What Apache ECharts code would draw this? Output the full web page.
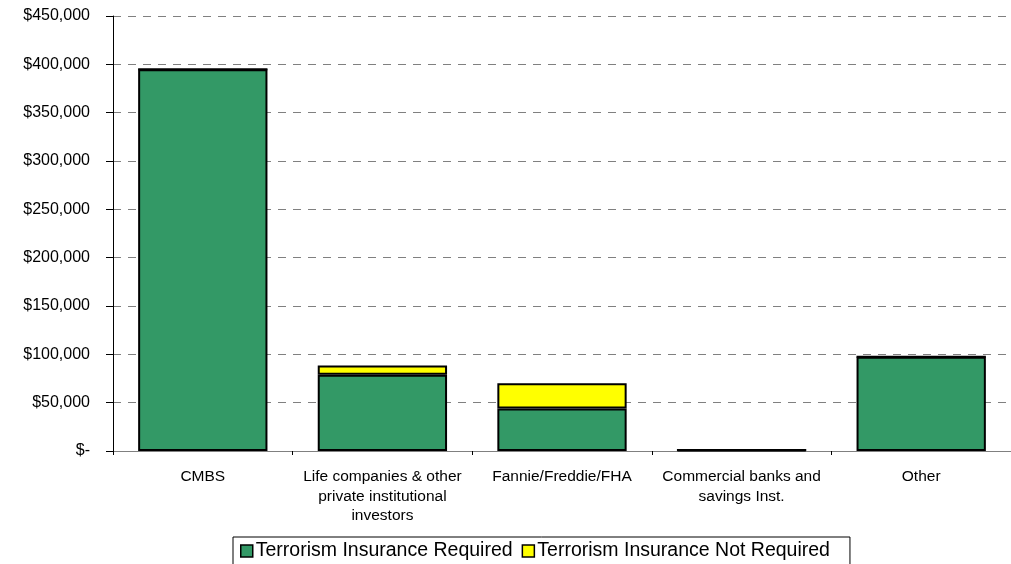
<!DOCTYPE html>
<html>
<head>
<meta charset="utf-8">
<script src="https://cdn.jsdelivr.net/npm/echarts@6/dist/echarts.min.js"></script>
<style>
  html, body { margin: 0; padding: 0; background: #fff; overflow: hidden; }
  #chart { width: 1011px; height: 564px; }
</style>
</head>
<body>
<div id="chart"></div>
<script>
// Lender categories and dollar volumes by terrorism-insurance requirement
const categories = [
  'CMBS',
  'Life companies & other\nprivate institutional\ninvestors',
  'Fannie/Freddie/FHA',
  'Commercial banks and\nsavings Inst.',
  'Other'
];
const insuranceRequired = [395000, 79000, 44000, 1000, 97500];
const insuranceNotRequired = [0, 9500, 26000, 0, 0];
const seriesNames = ['Terrorism Insurance Required', 'Terrorism Insurance Not Required'];

function dollarLabel(v) {
  if (v === 0) return '$-';
  return '$' + v.toLocaleString('en-US');
}

const chart = echarts.init(document.getElementById('chart'));
const font = 'Liberation Sans, Arial, sans-serif';

chart.setOption({
  animation: false,
  backgroundColor: '#ffffff',
  grid: { left: 113, right: -7, top: 16, bottom: 113, containLabel: false },
  legend: {
    top: 537,
    left: 233,
    itemWidth: 12,
    itemHeight: 12,
    itemGap: 9,
    padding: [4, 20, 20, 7],
    borderColor: '#000',
    borderWidth: 1,
    textStyle: { fontFamily: font, fontSize: 19.5, color: '#000', padding: [0, 0, 0, -2] },
    icon: 'rect',
    itemStyle: { borderColor: '#000', borderWidth: 1.5 },
    data: seriesNames
  },
  xAxis: {
    type: 'category',
    data: categories,
    axisLine: { lineStyle: { color: '#808080', width: 1 } },
    axisTick: { show: true, length: 4, lineStyle: { color: '#000' } },
    axisLabel: {
      fontFamily: font, fontSize: 15.5, color: '#000',
      margin: 16, lineHeight: 19.5, interval: 0
    }
  },
  yAxis: {
    type: 'value',
    min: 0,
    max: 450000,
    interval: 50000,
    axisLine: { show: true, lineStyle: { color: '#000', width: 1 } },
    axisTick: { show: true, length: 7, lineStyle: { color: '#000' } },
    axisLabel: {
      fontFamily: font, fontSize: 16, color: '#000', margin: 23,
      formatter: dollarLabel
    },
    splitLine: {
      show: true,
      lineStyle: { color: '#808080', type: [8, 7], width: 1 }
    }
  },
  series: [
    {
      name: seriesNames[0],
      type: 'bar',
      stack: 'total',
      barWidth: '72%',
      data: insuranceRequired,
      itemStyle: { color: '#339966', borderColor: '#000', borderWidth: 2 }
    },
    {
      name: seriesNames[1],
      type: 'bar',
      stack: 'total',
      barWidth: '72%',
      data: insuranceNotRequired,
      itemStyle: { color: '#ffff00', borderColor: '#000', borderWidth: 2 }
    }
  ]
});
</script>
</body>
</html>
